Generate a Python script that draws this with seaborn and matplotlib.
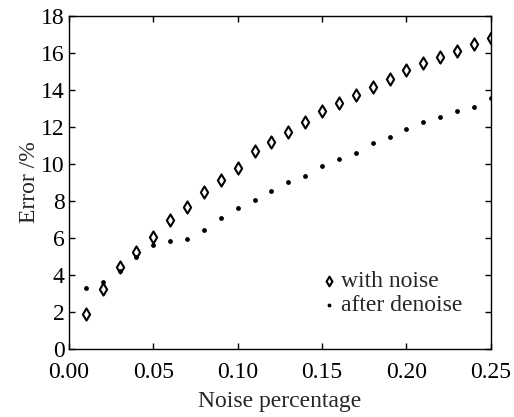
import matplotlib
matplotlib.use("Agg")
import matplotlib.pyplot as plt
import seaborn as sns
import pandas as pd

noise_pct = [0.01, 0.02, 0.03, 0.04, 0.05, 0.06, 0.07, 0.08, 0.09, 0.10,
             0.11, 0.12, 0.13, 0.14, 0.15, 0.16, 0.17, 0.18, 0.19, 0.20,
             0.21, 0.22, 0.23, 0.24, 0.25]
with_noise = [1.88, 3.23, 4.45, 5.26, 6.07, 6.97, 7.69, 8.50, 9.14, 9.80,
              10.68, 11.17, 11.75, 12.25, 12.86, 13.31, 13.73, 14.18, 14.58, 15.08,
              15.44, 15.77, 16.12, 16.49, 16.80]
after_denoise = [3.28, 3.60, 4.23, 4.99, 5.62, 5.86, 5.95, 6.43, 7.06, 7.64,
                 8.05, 8.56, 9.00, 9.37, 9.89, 10.25, 10.57, 11.12, 11.44, 11.87,
                 12.25, 12.56, 12.88, 13.10, 13.55]
xticks = [0.00, 0.05, 0.10, 0.15, 0.20, 0.25]
yticks = [0, 2, 4, 6, 8, 10, 12, 14, 16, 18]

sns.set_style("ticks")
plt.rcParams['font.family'] = ['Liberation Serif', 'DejaVu Serif']

df = pd.DataFrame({"x": noise_pct, "with": with_noise, "after": after_denoise})

fig = plt.figure(figsize=(5.14, 4.17), dpi=100)
ax = fig.add_axes([0.134, 0.163, 0.821, 0.799])

sns.scatterplot(data=df, x="x", y="with", ax=ax, marker="d", s=38,
                facecolor="white", edgecolor="black", linewidth=1.5,
                label="with noise")
sns.scatterplot(data=df, x="x", y="after", ax=ax, marker="o", s=12,
                color="black", edgecolor="black", linewidth=0,
                label="after denoise")

ax.set_xlim(0, 0.25)
ax.set_ylim(0, 18)
ax.set_xticks(xticks)
ax.set_xticklabels([f"{v:.2f}" for v in xticks])
ax.set_yticks(yticks)
ax.set_yticklabels([str(v) for v in yticks])
ax.tick_params(direction="in", top=True, right=True, length=4, width=1,
               labelsize=17, colors="black")
ax.tick_params(axis="x", pad=9)
ax.tick_params(axis="y", pad=3)
for sp in ax.spines.values():
    sp.set_visible(True)
    sp.set_linewidth(1.0)
    sp.set_color("black")
ax.set_xlabel("Noise percentage", fontsize=17, labelpad=6)
ax.set_ylabel("Error /%", fontsize=17, labelpad=1)

leg = ax.legend(loc="lower right", bbox_to_anchor=(0.955, 0.07), frameon=False,
                fontsize=17, handletextpad=0.1, borderaxespad=0,
                labelspacing=0.1, handlelength=0.8, markerscale=0.8)

fig.savefig("out.png", dpi=100)
